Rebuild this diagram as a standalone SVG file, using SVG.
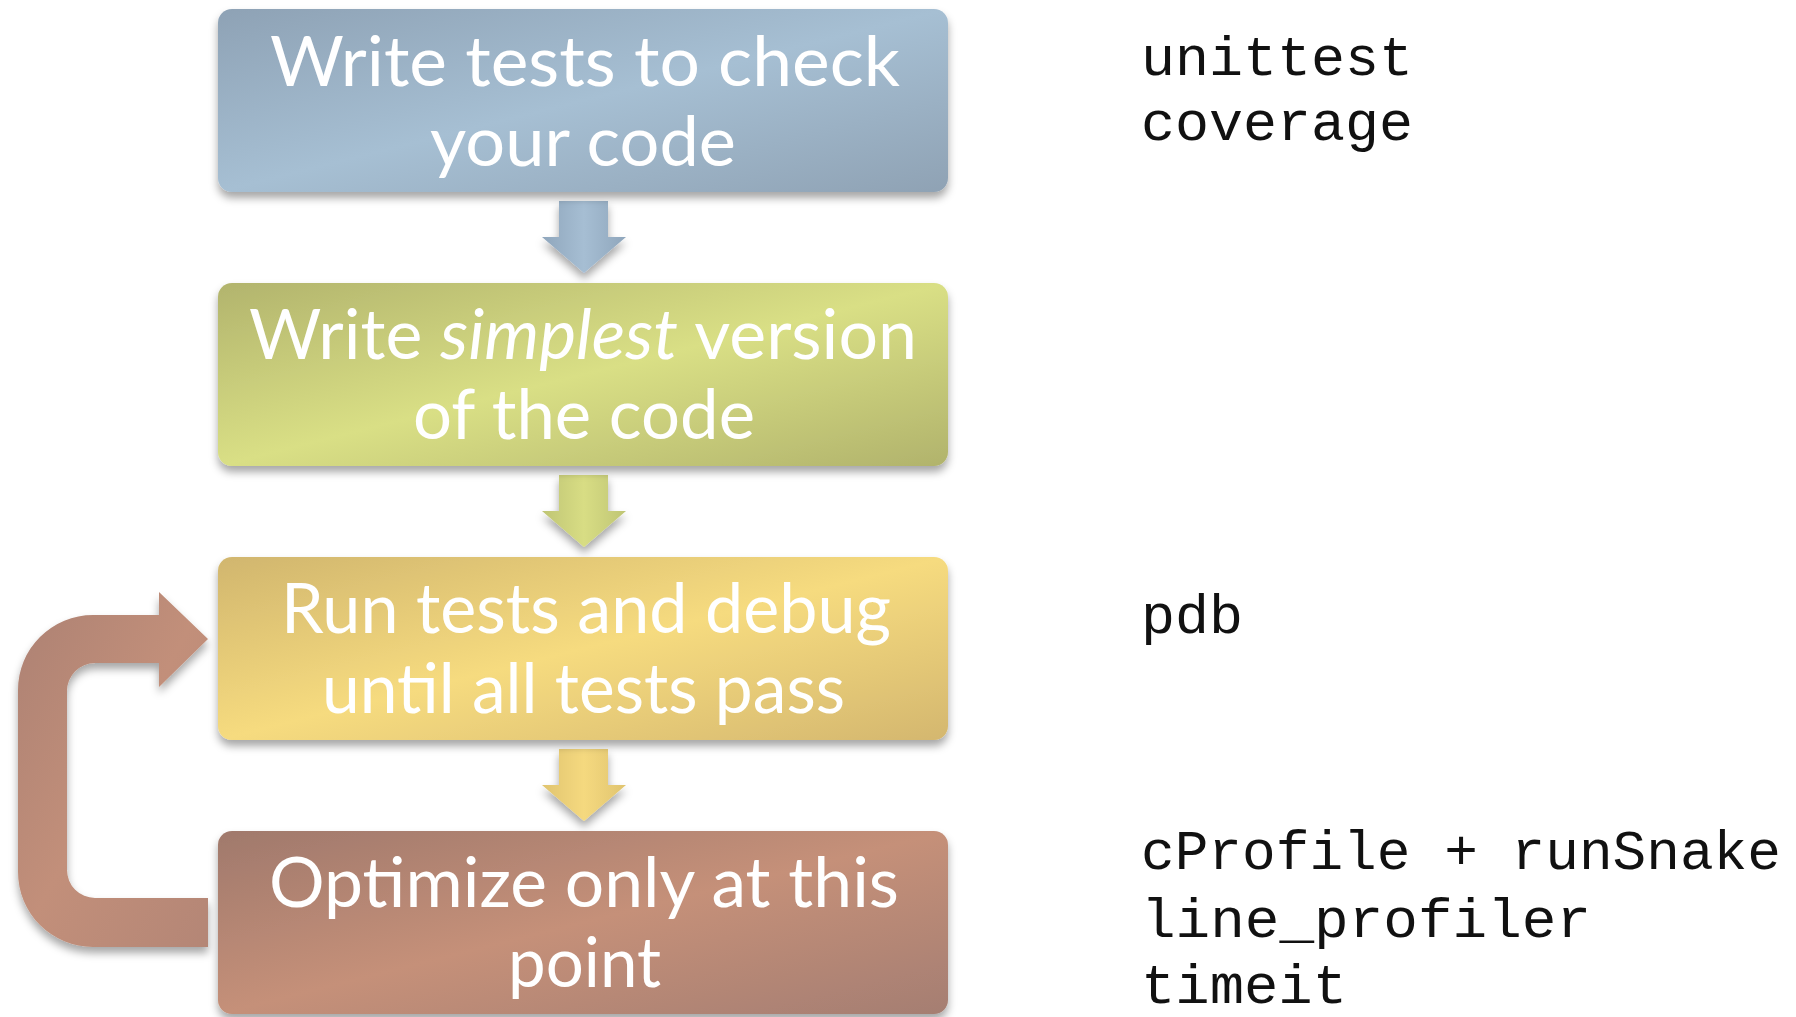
<svg xmlns="http://www.w3.org/2000/svg" width="1796" height="1017" viewBox="0 0 1796 1017">
<style>
.lbl{font-family:Lato,"Open Sans",sans-serif;font-size:70px;fill:#ffffff}
.mono{font-family:"Liberation Mono","Courier New",monospace;font-size:56px;fill:#111111}
</style>
<defs>
<filter id="sh" x="-10%" y="-10%" width="120%" height="130%">
<feDropShadow dx="0" dy="6" stdDeviation="4" flood-color="#000" flood-opacity="0.35"/>
</filter>
<linearGradient id="g1" x1="0" y1="0" x2="1" y2="1"><stop offset="0" stop-color="#8EA2B5"/><stop offset="0.5" stop-color="#A6BFD3"/><stop offset="1" stop-color="#8FA2B4"/></linearGradient>
<linearGradient id="g2" x1="0" y1="0" x2="1" y2="1"><stop offset="0" stop-color="#B2B46D"/><stop offset="0.5" stop-color="#D9DF85"/><stop offset="1" stop-color="#B1B36C"/></linearGradient>
<linearGradient id="g3" x1="0" y1="0" x2="1" y2="1"><stop offset="0" stop-color="#D1B66E"/><stop offset="0.5" stop-color="#F6DB7F"/><stop offset="1" stop-color="#D4B76F"/></linearGradient>
<linearGradient id="g4" x1="0" y1="0" x2="1" y2="1"><stop offset="0" stop-color="#A0796C"/><stop offset="0.5" stop-color="#C59079"/><stop offset="1" stop-color="#A57E72"/></linearGradient>
<linearGradient id="a1" x1="0" y1="0" x2="1" y2="0"><stop offset="0" stop-color="#8FA6BC"/><stop offset="0.5" stop-color="#A6BED3"/><stop offset="1" stop-color="#8FA6BC"/></linearGradient>
<linearGradient id="a2" x1="0" y1="0" x2="1" y2="0"><stop offset="0" stop-color="#BFC574"/><stop offset="0.5" stop-color="#D8DD84"/><stop offset="1" stop-color="#BFC574"/></linearGradient>
<linearGradient id="a3" x1="0" y1="0" x2="1" y2="0"><stop offset="0" stop-color="#E0C46F"/><stop offset="0.5" stop-color="#F5D97F"/><stop offset="1" stop-color="#E0C46F"/></linearGradient>
<linearGradient id="lp" x1="0" y1="0" x2="1" y2="1"><stop offset="0" stop-color="#AC8173"/><stop offset="0.5" stop-color="#C28F7A"/><stop offset="1" stop-color="#B48676"/></linearGradient>
</defs>
<rect width="1796" height="1017" fill="#ffffff"/>
<g id="connectors">
<path filter="url(#sh)" fill="url(#a1)" d="M559,201 H608 V237 H626 L584,273 L542,237 H559 Z"/>
<path filter="url(#sh)" fill="url(#a2)" d="M559,475 H608 V511 H626 L584,547 L542,511 H559 Z"/>
<path filter="url(#sh)" fill="url(#a3)" d="M559,749 H608 V785 H626 L584,821 L542,785 H559 Z"/>
<path id="loop" filter="url(#sh)" fill="url(#lp)" d="M208,639 L159,687 V663 H95 A28,28 0 0 0 67,691 V870 A28,28 0 0 0 95,898 H208 V947 H93 A75,75 0 0 1 18,872 V690 A75,75 0 0 1 93,615 H159 V592 Z"/>
</g>
<g id="node1">
<rect x="218" y="9" width="730" height="183" rx="14" fill="url(#g1)" filter="url(#sh)"/>
<text class="lbl" x="270" y="86" textLength="630" lengthAdjust="spacingAndGlyphs">Write tests to check</text>
<text class="lbl" x="430" y="166" textLength="306" lengthAdjust="spacingAndGlyphs">your code</text>
</g>
<g id="node2">
<rect x="218" y="283" width="730" height="183" rx="14" fill="url(#g2)" filter="url(#sh)"/>
<text class="lbl" x="249" y="359" textLength="668" lengthAdjust="spacingAndGlyphs">Write <tspan font-style="italic">simplest</tspan> version</text>
<text class="lbl" x="413" y="439" textLength="342" lengthAdjust="spacingAndGlyphs">of the code</text>
</g>
<g id="node3">
<rect x="218" y="557" width="730" height="183" rx="14" fill="url(#g3)" filter="url(#sh)"/>
<text class="lbl" x="281" y="633" textLength="610" lengthAdjust="spacingAndGlyphs">Run tests and debug</text>
<text class="lbl" x="322" y="713" textLength="523" lengthAdjust="spacingAndGlyphs">until all tests pass</text>
</g>
<g id="node4">
<rect x="218" y="831" width="730" height="183" rx="14" fill="url(#g4)" filter="url(#sh)"/>
<text class="lbl" x="269" y="907" textLength="630" lengthAdjust="spacingAndGlyphs">Optimize only at this</text>
<text class="lbl" x="508" y="987" textLength="153" lengthAdjust="spacingAndGlyphs">point</text>
</g>
<g id="tools">
<text class="mono" x="1141" y="75" textLength="272" lengthAdjust="spacingAndGlyphs">unittest</text>
<text class="mono" x="1141" y="140" textLength="272" lengthAdjust="spacingAndGlyphs">coverage</text>
<text class="mono" x="1141" y="633" textLength="102" lengthAdjust="spacingAndGlyphs">pdb</text>
<text class="mono" x="1141" y="869" textLength="640" lengthAdjust="spacingAndGlyphs">cProfile + runSnake</text>
<text class="mono" x="1141" y="937" textLength="450" lengthAdjust="spacingAndGlyphs">line_profiler</text>
<text class="mono" x="1141" y="1003" textLength="206" lengthAdjust="spacingAndGlyphs">timeit</text>
</g>
</svg>
